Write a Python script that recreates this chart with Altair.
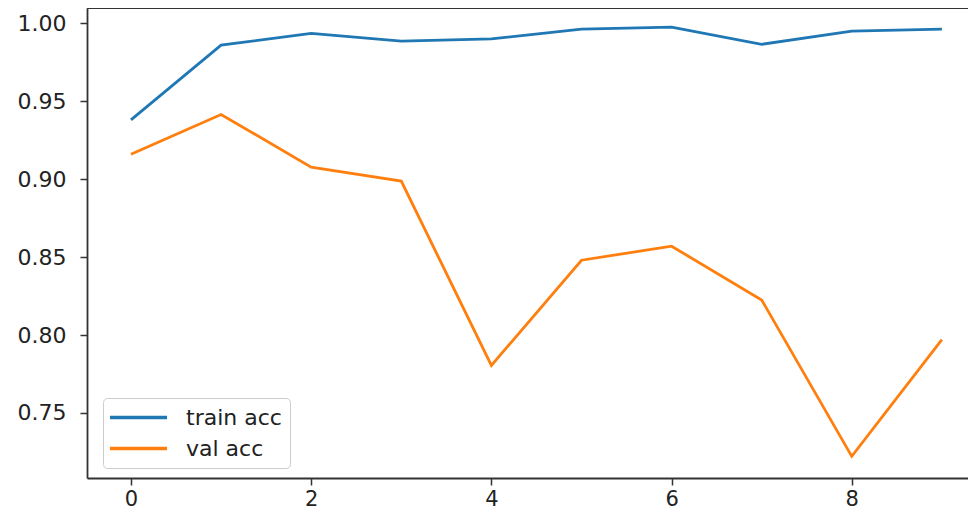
import altair as alt
import pandas as pd

epochs = [0, 1, 2, 3, 4, 5, 6, 7, 8, 9]
train_acc = [0.938, 0.986, 0.9935, 0.9886, 0.990, 0.9963, 0.9975, 0.9865, 0.995, 0.9963]
val_acc = [0.916, 0.9415, 0.9077, 0.8988, 0.7805, 0.848, 0.857, 0.8225, 0.7222, 0.797]
series_names = ["train acc", "val acc"]
series_colors = ["#1f77b4", "#ff7f0e"]
x_ticks = [0, 2, 4, 6, 8]
y_ticks = [0.75, 0.80, 0.85, 0.90, 0.95, 1.00]

df = pd.DataFrame({
    "epoch": epochs * 2,
    "acc": train_acc + val_acc,
    "series": [series_names[0]] * len(epochs) + [series_names[1]] * len(epochs),
})

FONT = "DejaVu Sans"

lines = alt.Chart(df).mark_line(strokeWidth=2.8).encode(
    x=alt.X("epoch:Q",
            scale=alt.Scale(domain=[-0.488, 9.29], nice=False, zero=False),
            axis=alt.Axis(values=x_ticks, title=None, grid=False, format="d",
                          tickSize=7, labelPadding=3,
                          labelFontSize=21,
                          labelFont=FONT, labelColor="#222222",
                          domainColor="#333333", domainWidth=1.8,
                          tickColor="#333333", tickWidth=1.5)),
    y=alt.Y("acc:Q",
            scale=alt.Scale(domain=[0.7083, 1.0098], nice=False, zero=False),
            axis=alt.Axis(values=y_ticks, title=None, grid=False, format=".2f",
                          tickSize=7, labelPadding=14, labelFontSize=22,
                          labelFont=FONT, labelColor="#222222",
                          domainColor="#333333", domainWidth=1.8,
                          tickColor="#333333", tickWidth=1.5)),
    color=alt.Color("series:N",
                    scale=alt.Scale(domain=series_names, range=series_colors),
                    legend=alt.Legend(
                        title=None, orient="none", legendX=16, legendY=390,
                        symbolType="M-3,0L3,0", symbolSize=361,
                        symbolStrokeWidth=3.5, symbolOffset=16,
                        labelOffset=36, labelFontSize=22, labelFont=FONT,
                        labelColor="#222222", rowPadding=8, padding=8,
                        strokeColor="#cccccc", fillColor="white",
                        cornerRadius=4)),
)

top_rule = alt.Chart(df).mark_rule(color="#333333", strokeWidth=1.8).encode(
    y=alt.value(0)
)

chart = alt.layer(lines, top_rule).properties(
    width=881, height=470,
    autosize=alt.AutoSizeParams(type="none"),
    padding={"left": 79, "top": 0, "right": 0, "bottom": 35},
).configure_view(stroke=None)

chart.save("out.html", embed_options={"renderer": "svg", "actions": False})
